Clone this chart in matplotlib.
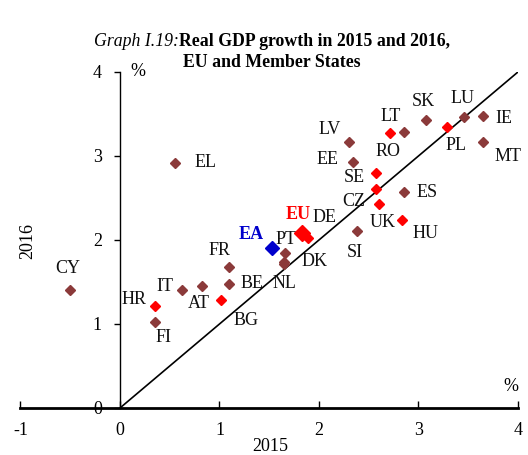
import matplotlib
matplotlib.use('Agg')
import matplotlib.pyplot as plt
import numpy as np

plt.rcParams['font.family'] = ['Liberation Serif', 'DejaVu Serif']
plt.rcParams['axes.unicode_minus'] = False

# data: real GDP growth (%), x = 2015, y = 2016
countries = ['CY', 'EL', 'HR', 'FI', 'IT', 'AT', 'BG', 'FR', 'BE', 'PT', 'DK', 'NL',
             'DE', 'SI', 'UK', 'HU', 'CZ', 'SE', 'ES', 'EE', 'LV', 'RO', 'LT', 'SK',
             'PL', 'LU', 'IE', 'MT']
gdp_2015 = [-0.50, 0.55, 0.35, 0.35, 0.62, 0.82, 1.02, 1.10, 1.10, 1.66, 1.65, 1.65,
            1.89, 2.38, 2.60, 2.83, 2.57, 2.57, 2.85, 2.34, 2.30, 2.71, 2.85, 3.08,
            3.29, 3.46, 3.65, 3.65]
gdp_2016 = [1.40, 2.92, 1.22, 1.02, 1.40, 1.45, 1.29, 1.68, 1.48, 1.85, 1.74, 1.71,
            2.02, 2.11, 2.43, 2.24, 2.61, 2.80, 2.57, 2.93, 3.17, 3.27, 3.29, 3.43,
            3.35, 3.46, 3.48, 3.17]
non_euro = ['HR', 'BG', 'DE', 'UK', 'HU', 'CZ', 'SE', 'RO', 'PL']

aggregates = ['EU', 'EA']
agg_2015 = [1.83, 1.53]
agg_2016 = [2.08, 1.90]

# label offsets in pixels (dx, dy) from each marker
offsets = {
    'CY': (-2, 22), 'EL': (31, 0), 'HR': (-21, 6), 'FI': (9, -15), 'IT': (-17, 4),
    'AT': (-3, -17), 'BG': (25, -21), 'FR': (-10, 16), 'BE': (23, 0), 'PT': (1, 13),
    'DK': (30, 0), 'NL': (0, -19), 'DE': (16, 21), 'SI': (-2, -22), 'UK': (4, -19),
    'HU': (24, -14), 'CZ': (-22, -13), 'SE': (-21, -5), 'ES': (24, 0), 'EE': (-25, 2),
    'LV': (-19, 12), 'RO': (-2, -18), 'LT': (-13, 15), 'SK': (-3, 18), 'PL': (9, -19),
    'LU': (-2, 19), 'IE': (21, -3), 'MT': (25, -15),
    'EU': (-4, 19), 'EA': (-21, 14),
}

brown = '#8b3a3a'
red = '#ff0000'
blue = '#0000cc'
fs = 13

fig = plt.figure(figsize=(5.28, 4.55), dpi=100)
ax = fig.add_axes([0.0388, 0.1033, 0.9422, 0.7385])

# 45 degree line
ax.plot([0, 4.03], [0, 4.03], color='black', lw=1.2, zorder=1)

for c, x, y in zip(countries, gdp_2015, gdp_2016):
    col = red if c in non_euro else brown
    ax.plot(x, y, marker='D', color=col, ms=5.3, ls='none', zorder=3)
    ax.annotate(c, (x, y), xytext=offsets[c], textcoords='offset pixels',
                ha='center', va='center', fontsize=fs, color='#111111')

ax.plot(agg_2015[0], agg_2016[0], marker='D', color=red, ms=8, ls='none', zorder=4)
ax.plot(agg_2015[1], agg_2016[1], marker='D', color=blue, ms=7, ls='none', zorder=4)
ax.annotate('EU', (agg_2015[0], agg_2016[0]), xytext=offsets['EU'], textcoords='offset pixels',
            ha='center', va='center', fontsize=fs, color=red, fontweight='bold')
ax.annotate('EA', (agg_2015[1], agg_2016[1]), xytext=offsets['EA'], textcoords='offset pixels',
            ha='center', va='center', fontsize=fs, color=blue, fontweight='bold')

ax.set_xlim(-1, 4)
ax.set_ylim(0, 4)
ax.spines['top'].set_visible(False)
ax.spines['right'].set_visible(False)
ax.spines['left'].set_position(('data', 0))
ax.spines['bottom'].set_position(('data', 0))
ax.spines['left'].set_linewidth(1.0)
ax.spines['bottom'].set_linewidth(2.0)
ax.patch.set_alpha(0)

ax.set_xticks(np.arange(-1, 5, 1))
ax.set_yticks(np.arange(0, 5, 1))
ax.tick_params(axis='x', direction='in', length=5, width=1, pad=10, labelsize=fs)
ax.tick_params(axis='y', direction='out', length=4, width=1, pad=9, labelsize=fs)

ax.text(0.1, 4.0, '%', fontsize=fs, ha='left', va='center')
ax.text(3.93, 0.25, '%', fontsize=fs, ha='center', va='center')
fig.text(0.511, 0.019, '2015', fontsize=fs, ha='center', va='center')
fig.text(0.052, 0.47, '2016', rotation=90, fontsize=fs, ha='center', va='center')

fig.text(0.339, 0.908, 'Graph I.19:', fontsize=12.8, style='italic', ha='right', va='center')
fig.text(0.339, 0.908, 'Real GDP growth in 2015 and 2016,', fontsize=12.8,
         fontweight='bold', ha='left', va='center')
fig.text(0.515, 0.862, 'EU and Member States', fontsize=12.8, fontweight='bold',
         ha='center', va='center')

fig.savefig('out.png', dpi=100)
